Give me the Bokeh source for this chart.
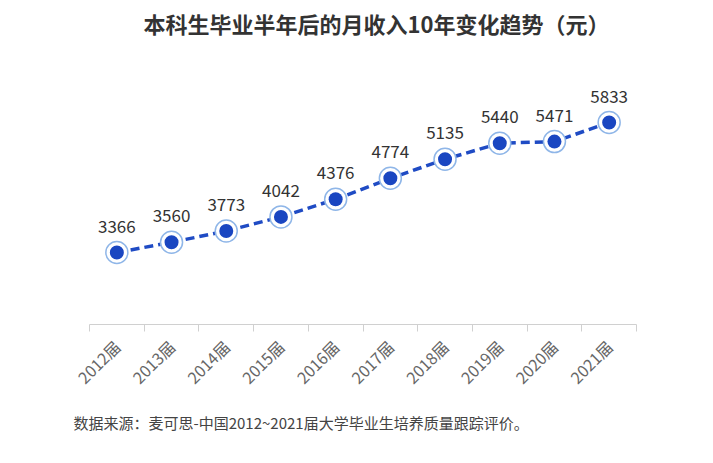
import math
from bokeh.plotting import figure
from bokeh.models import Range1d, FixedTicker, Label, LabelSet, ColumnDataSource, LinearAxis, Title
from bokeh.core.properties import value
from bokeh.embed import file_html
from bokeh.resources import INLINE

years = ["2012届", "2013届", "2014届", "2015届", "2016届", "2017届", "2018届", "2019届", "2020届", "2021届"]
income = [3366, 3560, 3773, 4042, 4376, 4774, 5135, 5440, 5471, 5833]
title_text = "本科生毕业半年后的月收入10年变化趋势（元）"
source_text = "数据来源：麦可思-中国2012~2021届大学毕业生培养质量跟踪评价。"

FONT = "Noto Sans CJK SC"
xs = list(range(len(years)))
src = ColumnDataSource(dict(x=xs, y=income, t=[str(v) for v in income]))

# frame spans the whole top area (title drawn inside it); 0.0527 px per unit
FW, FH = 547, 324
Y0 = 2000
Y1 = Y0 + FH / 0.0527
p = figure(frame_width=FW, frame_height=FH, output_backend="svg", toolbar_location=None,
           x_range=Range1d(-0.5, len(years) - 0.5), y_range=Range1d(Y0, Y1),
           x_axis_location=None, y_axis_location=None,
           min_border_left=89, min_border_right=62, min_border_top=0, min_border_bottom=0)
p.outline_line_color = None
p.grid.visible = False
p.background_fill_color = "white"

ax = LinearAxis()
ax.ticker = FixedTicker(ticks=xs, minor_ticks=[i - 0.5 for i in range(len(years) + 1)])
ax.major_label_overrides = {i: y for i, y in zip(xs, years)}
ax.major_label_orientation = math.pi / 4
ax.major_tick_line_color = None
ax.major_tick_out = 0
ax.major_tick_in = 0
ax.minor_tick_line_color = "#d0d0d0"
ax.minor_tick_out = 7
ax.minor_tick_in = 0
ax.axis_line_color = "#d0d0d0"
ax.major_label_text_font = FONT
ax.major_label_text_font_size = "16px"
ax.major_label_text_color = "#666666"
ax.major_label_standoff = 12
p.add_layout(ax, "below")

p.line("x", "y", source=src, line_color="#1f4bc4", line_width=3.5, line_dash="9 5")
p.scatter("x", "y", source=src, size=22, fill_color="white", line_color="#8fb6e8", line_width=1.5)
p.scatter("x", "y", source=src, size=14, fill_color="#1a46c1", line_color=None)

labels = LabelSet(x="x", y="y", text="t", source=src, y_offset=20, text_align="center",
                  text_baseline="bottom", text_font=value(FONT), text_font_size="17px",
                  text_color="#333333")
p.add_layout(labels)

title = Label(x=54, y=FH - 22, x_units="screen", y_units="screen", text=title_text,
              text_align="left", text_baseline="middle", text_font=FONT,
              text_font_size="22px", text_font_style="bold", text_color="#333333")
p.add_layout(title)

s = Title(text=source_text, align="left", offset=-16, text_font=FONT, text_font_size="15px",
          text_font_style="normal", text_color="#444444", standoff=21)
p.add_layout(s, "below")

open("out.html", "w").write(file_html(p, INLINE))
